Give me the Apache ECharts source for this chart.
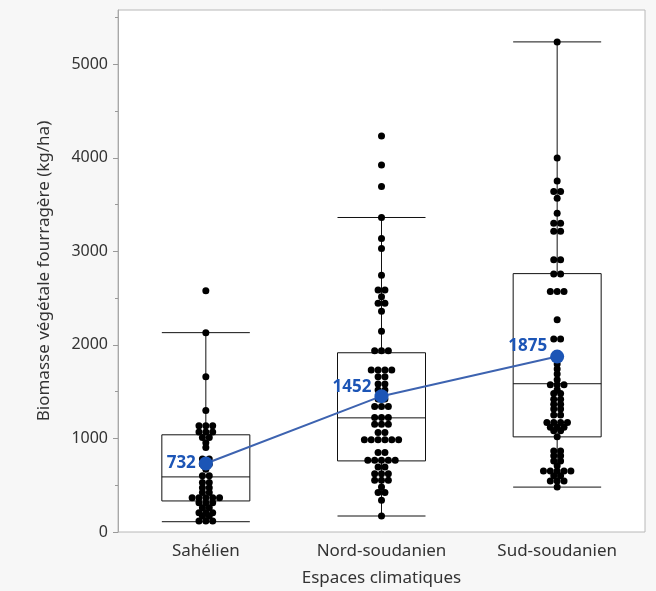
<!DOCTYPE html>
<html lang="fr">
<head>
    <meta charset="UTF-8">
    <title>biomasse-boxplot</title>
    <script type="text/javascript" src="https://cdn.jsdelivr.net/npm/echarts@6/dist/echarts.min.js"></script>
</head>
<body style="margin:0;background:#f7f7f7;">
<div id="chart" style="width: 656px;height: 591px;"></div>
<script type="text/javascript">
    // categories et statistiques des boîtes [min, Q1, médiane, Q3, max]
    var categories = ['Sahélien', 'Nord-soudanien', 'Sud-soudanien'];
    var boxStats = [
        [110, 332, 589, 1039, 2131],
        [171, 760, 1220, 1916, 3362],
        [480, 1017, 1585, 2762, 5239]
    ];
    var means = [732, 1452, 1875];
    var yTicks = [0, 1000, 2000, 3000, 4000, 5000];
    var yMinorTicks = [500, 1500, 2500, 3500, 4500, 5500];

    var sahelien = [2580, 2130, 1660, 1300,
        1135, 1135, 1135, 1070, 1070, 1070, 1010, 1010, 955, 903,
        780, 780, 725, 725, 671, 600, 600, 528, 528, 474, 474,
        421, 421, 367, 367, 367, 367, 367, 314, 314, 314,
        260, 260, 207, 207, 207, 171, 171, 118, 118, 118];
    var nordSoudanien = [4232, 3922, 3694, 3362, 3137, 3030, 2744,
        2588, 2588, 2516, 2445, 2445, 2359, 2145,
        1938, 1938, 1938, 1731, 1731, 1731, 1731, 1659, 1659, 1581, 1581,
        1517, 1517, 1421, 1421, 1342, 1342, 1342, 1224, 1224, 1224,
        1153, 1153, 1153, 1063, 1063, 985, 985, 985, 985, 985, 985,
        849, 849, 768, 768, 768, 768, 768, 696, 696, 624, 624, 624,
        553, 553, 553, 482, 421, 421, 339, 171];
    var sudSoudanien = [5239, 3997, 3751, 3640, 3640, 3569, 3408,
        3301, 3301, 3215, 3215, 2909, 2909, 2759, 2759, 2570, 2570, 2570,
        2270, 2063, 2063, 1795, 1742, 1688, 1627, 1574, 1574, 1574, 1520,
        1481, 1481, 1420, 1420, 1365, 1365, 1314, 1314, 1250, 1250,
        1170, 1170, 1170, 1170, 1120, 1120, 1120, 1081, 1081, 1017,
        867, 867, 814, 814, 760, 760, 707, 653, 653, 653, 653, 653,
        600, 600, 546, 546, 546, 480];

    // rangées de points centrées sur la catégorie
    var dotStep = 0.039;
    function dotRows(values, idx) {
        var counts = {};
        values.forEach(function (v) { counts[v] = (counts[v] || 0) + 1; });
        var seen = {};
        var res = [];
        values.forEach(function (v) {
            var k = seen[v] || 0;
            seen[v] = k + 1;
            res.push([idx + (k - (counts[v] - 1) / 2) * dotStep, v]);
        });
        return res;
    }
    var dots = dotRows(sahelien, 0).concat(dotRows(nordSoudanien, 1), dotRows(sudSoudanien, 2));

    var labelOffsets = [[0, 0], [0, -9], [0, -10]];
    var meanData = means.map(function (m, i) {
        return {value: m, label: {offset: labelOffsets[i]}};
    });

    var myChart = echarts.init(document.getElementById('chart'));
    var textColor = '#333';
    var option = {
        backgroundColor: '#f7f7f7',
        animation: false,
        grid: {
            left: 118, right: 11, top: 10, bottom: 59,
            outerBoundsMode: 'none',
            containLabel: false,
            show: true, backgroundColor: '#fff', borderColor: '#b8b8b8', borderWidth: 1
        },
        xAxis: [{
            type: 'category',
            data: categories,
            axisLine: {show: false},
            axisTick: {show: false},
            axisLabel: {fontSize: 17, color: textColor, margin: 11, fontFamily: 'Noto Sans'},
            name: 'Espaces climatiques',
            nameLocation: 'middle',
            nameGap: 38,
            nameTextStyle: {fontSize: 17, color: textColor, fontFamily: 'Noto Sans'}
        }, {
            type: 'value', min: -0.5, max: 2.5, show: false,
            axisLine: {onZero: false}
        }],
        yAxis: [{
            type: 'value',
            min: 0,
            max: 5580,
            interval: 1000,
            splitLine: {show: false},
            axisLine: {show: true, onZero: false, lineStyle: {color: '#a8a8a8'}},
            axisTick: {show: true, length: 5, customValues: yTicks, lineStyle: {color: '#999'}},
            axisLabel: {
                fontSize: 16, color: textColor, margin: 10, customValues: yTicks, fontFamily: 'Noto Sans',
                formatter: function (v) { return String(v); }
            },
            name: 'Biomasse végétale fourragère (kg/ha)',
            nameLocation: 'middle',
            nameGap: 65,
            nameTextStyle: {fontSize: 17, color: textColor, fontFamily: 'Noto Sans'}
        }, {
            type: 'value',
            position: 'left',
            min: 0,
            max: 5580,
            interval: 500,
            splitLine: {show: false},
            axisLine: {show: false, onZero: false},
            axisLabel: {show: false},
            axisTick: {show: true, length: 3, customValues: yMinorTicks, lineStyle: {color: '#999'}}
        }],
        series: [{
            type: 'boxplot',
            xAxisIndex: 0,
            yAxisIndex: 0,
            silent: true,
            boxWidth: [88, 88],
            itemStyle: {color: 'rgba(0,0,0,0)', borderColor: '#111', borderWidth: 1},
            data: boxStats,
            z: 2
        }, {
            type: 'scatter',
            xAxisIndex: 1,
            yAxisIndex: 0,
            silent: true,
            symbolSize: 7,
            itemStyle: {color: '#000', opacity: 1},
            data: dots,
            z: 3
        }, {
            type: 'line',
            xAxisIndex: 0,
            yAxisIndex: 0,
            silent: true,
            symbol: 'circle',
            symbolSize: 14,
            lineStyle: {color: '#3d63b0', width: 2},
            itemStyle: {color: '#1c55b6'},
            label: {
                show: true, position: 'left', distance: 3,
                fontSize: 17, fontWeight: 'bold', color: '#1c55b6', fontFamily: 'Noto Sans'
            },
            data: meanData,
            z: 5
        }]
    };
    myChart.setOption(option);
</script>
</body>
</html>
